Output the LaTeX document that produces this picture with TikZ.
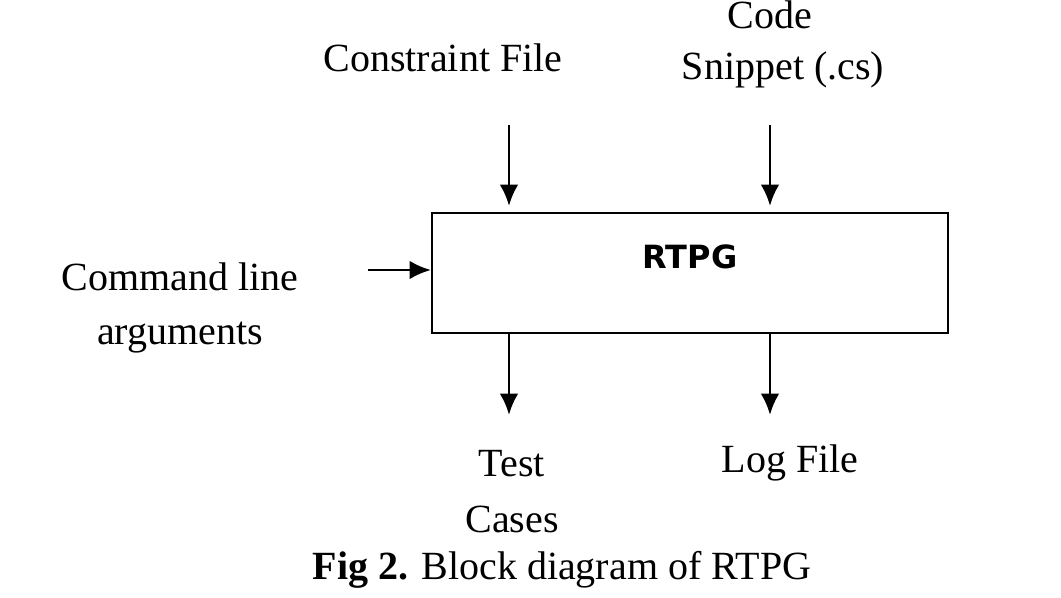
\documentclass[tikz,border=0pt]{standalone}
\usepackage{fontspec}
\setmainfont{Liberation Serif}
\setsansfont{DejaVu Sans}
\usetikzlibrary{arrows.meta}
\begin{document}
\begin{tikzpicture}[x=0.75pt,y=-0.75pt,
  lbl/.style={font=\fontsize{30}{36}\selectfont, align=center, inner sep=0},
  arr/.style={-{Latex[length=16pt,width=14pt]}, line width=2.2pt}]
\useasboundingbox (0,0) rectangle (1061,598);
\node[draw, line width=1.6pt, minimum width=516*0.75pt, minimum height=120*0.75pt, inner sep=0] (box) at (690,273) {};
\node[font=\sffamily\bfseries\fontsize{24}{28}\selectfont] (rtpg) at (690,257) {RTPG};
\node[lbl] (cf) at (443,58) {Constraint File};
\node[lbl] (code) at (770,15) {Code};
\node[lbl] (cs) at (783,70) {Snippet (.cs)};
\node[lbl, align=center] (cmd) at (180,308) {Command line\\[4pt]arguments};
\node[lbl] (tc) at (512,492) {Test\\[6pt]Cases};
\node[lbl] (log) at (790,463) {Log File};
\node[font=\fontsize{30}{36}\selectfont] (cap) at (562,570) {\textbf{Fig 2.} Block diagram of RTPG};
\coordinate (a1) at (509,125); \coordinate (a2) at (770,125);
\coordinate (a3) at (368,270); \coordinate (b1) at (509,415); \coordinate (b2) at (770,415);
\draw[arr] (a1) -- (509,206);
\draw[arr] (a2) -- (770,206);
\draw[arr] (a3) -- (box.west |- a3);
\draw[arr] (509,333) -- (b1);
\draw[arr] (770,333) -- (b2);
\end{tikzpicture}
\end{document}
